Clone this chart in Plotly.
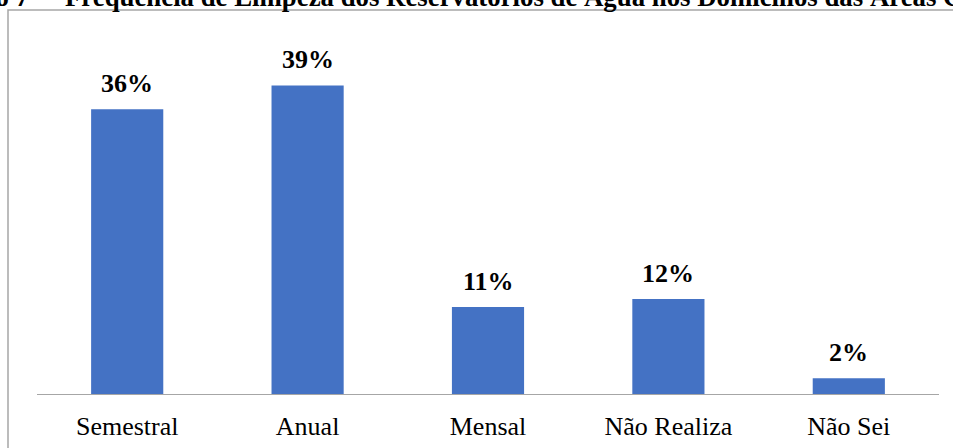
import plotly.graph_objects as go

categories = ["Semestral", "Anual", "Mensal", "Não Realiza", "Não Sei"]
values = [36, 39, 11, 12, 2]
value_labels = ["36%", "39%", "11%", "12%", "2%"]
title_prefix = "Gráfico 7"
title_text = "Frequência de Limpeza dos Reservatórios de Água nos Domicílios das Áreas Centrais"

W, H = 953, 448
L, R, T, B = 37, 14, 38, 54
PW = W - L - R
PH = H - T - B

def px(x):
    return (x - L) / PW

def py(y):
    return (H - B - y) / PH

FONT = "Liberation Serif, Times New Roman, serif"

fig = go.Figure()
fig.add_trace(go.Bar(
    x=categories, y=values,
    marker=dict(color="#4472C4", line=dict(width=0)),
    hoverinfo="skip",
))

annotations = []
for c, v, t in zip(categories, values, value_labels):
    annotations.append(dict(
        x=c, y=v, xref="x", yref="y", text="<b>%s</b>" % t,
        showarrow=False, xanchor="center", yanchor="bottom", yshift=9,
        font=dict(family=FONT, size=26, color="#000000"),
    ))

annotations.append(dict(
    x=px(31), y=py(14), xref="paper", yref="paper", text="<b>%s</b>" % title_prefix,
    showarrow=False, xanchor="right", yanchor="bottom",
    font=dict(family=FONT, size=26.8, color="#000000"),
))
annotations.append(dict(
    x=px(63), y=py(14), xref="paper", yref="paper", text="<b>%s</b>" % title_text,
    showarrow=False, xanchor="left", yanchor="bottom",
    font=dict(family=FONT, size=26.8, color="#000000"),
))

fig.update_layout(
    width=W, height=H,
    margin=dict(l=L, r=R, t=T, b=B, pad=0, autoexpand=False),
    paper_bgcolor="#FFFFFF", plot_bgcolor="#FFFFFF",
    bargap=0.6,
    showlegend=False,
    annotations=annotations,
    shapes=[dict(
        type="rect", xref="paper", yref="paper",
        x0=px(8), x1=px(W + 20), y0=py(H + 20), y1=py(10),
        line=dict(color="#A6A6A6", width=1.5), fillcolor="rgba(0,0,0,0)",
        layer="below",
    )],
    xaxis=dict(
        showline=True, linecolor="#A6A6A6", linewidth=1,
        showgrid=False, zeroline=False, ticks="", automargin=False,
        tickfont=dict(family=FONT, size=26, color="#000000"),
        ticklabelstandoff=9,
    ),
    yaxis=dict(
        range=[0, 45], visible=False, showgrid=False, zeroline=False,
        automargin=False,
    ),
)

fig.write_html(
    "out.html",
    config={"displayModeBar": False, "staticPlot": True},
    post_script="document.body.style.margin='0';document.body.style.overflow='hidden';",
)
